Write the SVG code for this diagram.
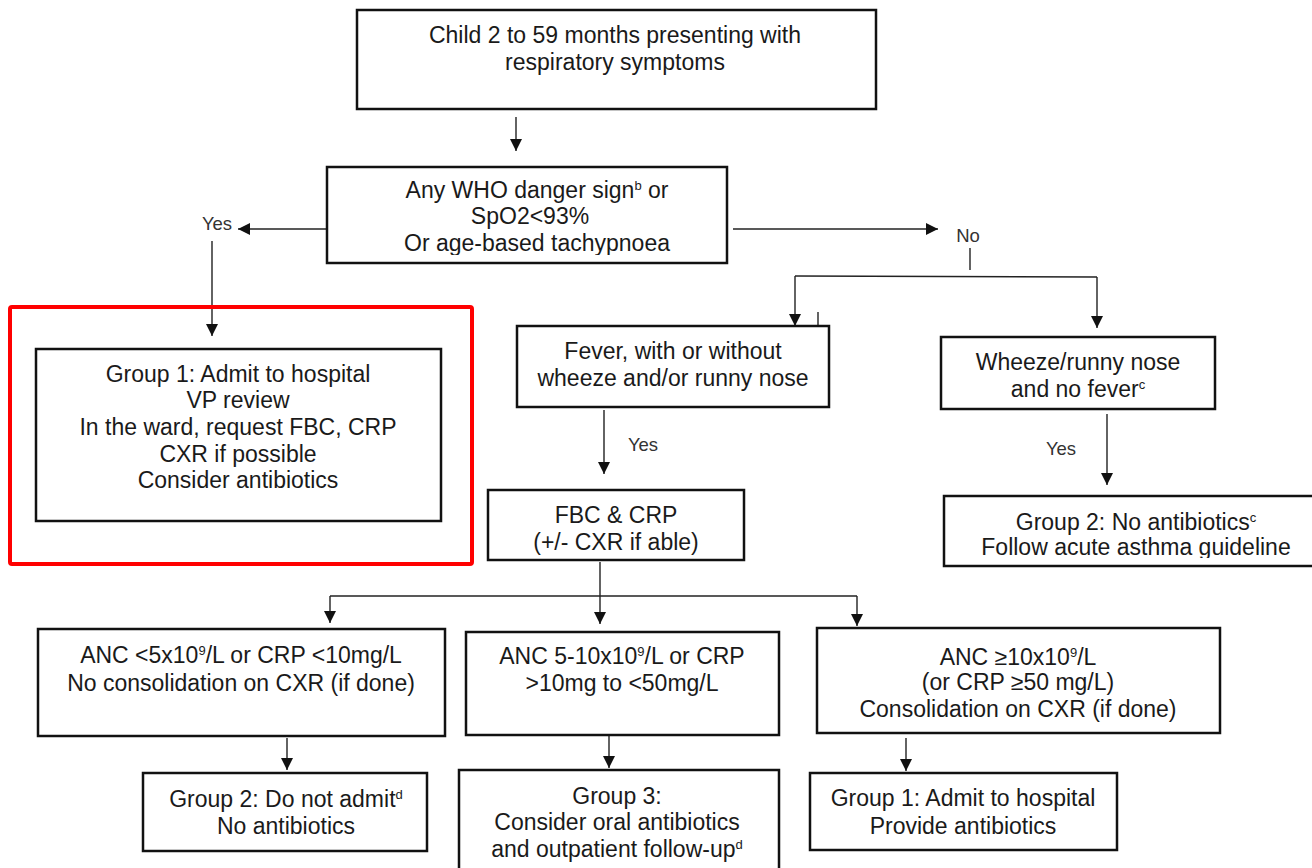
<svg xmlns="http://www.w3.org/2000/svg" width="1312" height="868" viewBox="0 0 1312 868">
<style>
.box{fill:#fff;stroke:#111;stroke-width:2.5}
.t{font-family:"Liberation Sans",Arial,sans-serif;font-size:23px;fill:#1a1a1a;text-anchor:middle}
.lbl{font-family:"Liberation Sans",Arial,sans-serif;font-size:18.5px;fill:#333;text-anchor:middle}
.c{fill:none;stroke:#222;stroke-width:1.4}
.a{fill:none;stroke:#222;stroke-width:1.4;marker-end:url(#ah)}
.sup{font-size:13px}
</style>
<defs>
<marker id="ah" viewBox="0 0 12 12" refX="12" refY="6" markerWidth="12" markerHeight="12" markerUnits="userSpaceOnUse" orient="auto">
<path d="M0,0 L12,6 L0,12 z" fill="#111"/>
</marker>
<clipPath id="clip2"><rect x="327" y="167" width="400" height="88"/></clipPath>
<clipPath id="clip3"><rect x="944" y="496" width="380" height="62"/></clipPath>
</defs>
<rect width="1312" height="868" fill="#fff"/>

<g id="connectors">
<line class="a" x1="516" y1="117" x2="516" y2="151"/>
<line class="a" x1="327" y1="229" x2="238" y2="229"/>
<line class="a" x1="212" y1="241" x2="212" y2="336"/>
<line class="a" x1="733" y1="229" x2="938" y2="229"/>
<line class="c" x1="970" y1="248" x2="970" y2="270"/>
<line class="c" x1="795" y1="276" x2="1097" y2="277"/>
<line class="a" x1="795" y1="276" x2="795" y2="326"/>
<line class="a" x1="1097" y1="277" x2="1097" y2="328"/>
<line class="c" x1="818" y1="312" x2="818" y2="326"/>
<line class="a" x1="604" y1="410" x2="604" y2="474"/>
<line class="a" x1="1107" y1="414" x2="1107" y2="485"/>
<line class="c" x1="600" y1="562" x2="600" y2="596"/>
<line class="c" x1="330" y1="596" x2="857" y2="596"/>
<line class="a" x1="330" y1="596" x2="330" y2="623"/>
<line class="a" x1="600" y1="596" x2="600" y2="624"/>
<line class="a" x1="857" y1="596" x2="857" y2="626"/>
<line class="a" x1="287" y1="738" x2="287" y2="770"/>
<line class="a" x1="609" y1="736" x2="609" y2="768"/>
<line class="a" x1="906" y1="738" x2="906" y2="771"/>
<text class="lbl" x="217" y="230">Yes</text>
<text class="lbl" x="968" y="242">No</text>
<text class="lbl" x="643" y="451">Yes</text>
<text class="lbl" x="1061" y="455">Yes</text>
</g>

<g id="highlight">
<rect x="10" y="307" width="462" height="257" rx="2" fill="none" stroke="#ff0000" stroke-width="4"/>
</g>

<g id="start">
<rect class="box" x="357" y="10" width="519" height="99"/>
<text class="t" x="615" y="43">Child 2 to 59 months presenting with</text>
<text class="t" x="615" y="70">respiratory symptoms</text>
</g>

<g id="danger">
<rect class="box" x="327" y="167" width="400" height="96"/>
<g clip-path="url(#clip2)">
<text class="t" x="537" y="198">Any WHO danger sign<tspan class="sup" dy="-8">b</tspan><tspan dy="8"> or</tspan></text>
<text class="t" x="530" y="224">SpO2&lt;93%</text>
<text class="t" x="537" y="251">Or age-based tachypnoea</text>
</g>
</g>

<g id="group1-admit">
<rect class="box" x="36" y="349" width="405" height="172"/>
<text class="t" x="238" y="382">Group 1: Admit to hospital</text>
<text class="t" x="238" y="408">VP review</text>
<text class="t" x="238" y="435">In the ward, request FBC, CRP</text>
<text class="t" x="238" y="462">CXR if possible</text>
<text class="t" x="238" y="488">Consider antibiotics</text>
</g>

<g id="fever">
<rect class="box" x="517" y="326" width="312" height="81"/>
<text class="t" x="673" y="359">Fever, with or without</text>
<text class="t" x="673" y="386">wheeze and/or runny nose</text>
</g>

<g id="wheeze">
<rect class="box" x="941" y="337" width="274" height="72"/>
<text class="t" x="1078" y="370">Wheeze/runny nose</text>
<text class="t" x="1078" y="397">and no fever<tspan class="sup" dy="-8">c</tspan></text>
</g>

<g id="fbc">
<rect class="box" x="488" y="490" width="256" height="70"/>
<text class="t" x="616" y="523">FBC &amp; CRP</text>
<text class="t" x="616" y="550">(+/- CXR if able)</text>
</g>

<g id="group2-asthma">
<rect class="box" x="944" y="496" width="390" height="70"/>
<g clip-path="url(#clip3)">
<text class="t" x="1136" y="530">Group 2: No antibiotics<tspan class="sup" dy="-8">c</tspan></text>
<text class="t" x="1136" y="555">Follow acute asthma guideline</text>
</g>
</g>

<g id="anc-low">
<rect class="box" x="38" y="629" width="407" height="107"/>
<text class="t" x="241" y="663">ANC &lt;5x10<tspan class="sup" dy="-8">9</tspan><tspan dy="8">/L or CRP &lt;10mg/L</tspan></text>
<text class="t" x="241" y="691">No consolidation on CXR (if done)</text>
</g>

<g id="anc-mid">
<rect class="box" x="466" y="632" width="313" height="103"/>
<text class="t" x="622" y="664">ANC 5-10x10<tspan class="sup" dy="-8">9</tspan><tspan dy="8">/L or CRP</tspan></text>
<text class="t" x="622" y="691">&gt;10mg to &lt;50mg/L</text>
</g>

<g id="anc-high">
<rect class="box" x="817" y="628" width="403" height="105"/>
<text class="t" x="1018" y="665">ANC ≥10x10<tspan class="sup" dy="-8">9</tspan><tspan dy="8">/L</tspan></text>
<text class="t" x="1018" y="690">(or CRP ≥50 mg/L)</text>
<text class="t" x="1018" y="717">Consolidation on CXR (if done)</text>
</g>

<g id="group2-noadmit">
<rect class="box" x="143" y="773" width="284" height="78"/>
<text class="t" x="286" y="807">Group 2: Do not admit<tspan class="sup" dy="-8">d</tspan></text>
<text class="t" x="286" y="834">No antibiotics</text>
</g>

<g id="group3">
<rect class="box" x="459" y="770" width="320" height="110"/>
<text class="t" x="617" y="804">Group 3:</text>
<text class="t" x="617" y="830">Consider oral antibiotics</text>
<text class="t" x="617" y="857">and outpatient follow-up<tspan class="sup" dy="-8">d</tspan></text>
</g>

<g id="group1-provide">
<rect class="box" x="810" y="773" width="307" height="77"/>
<text class="t" x="963" y="806">Group 1: Admit to hospital</text>
<text class="t" x="963" y="834">Provide antibiotics</text>
</g>
</svg>
